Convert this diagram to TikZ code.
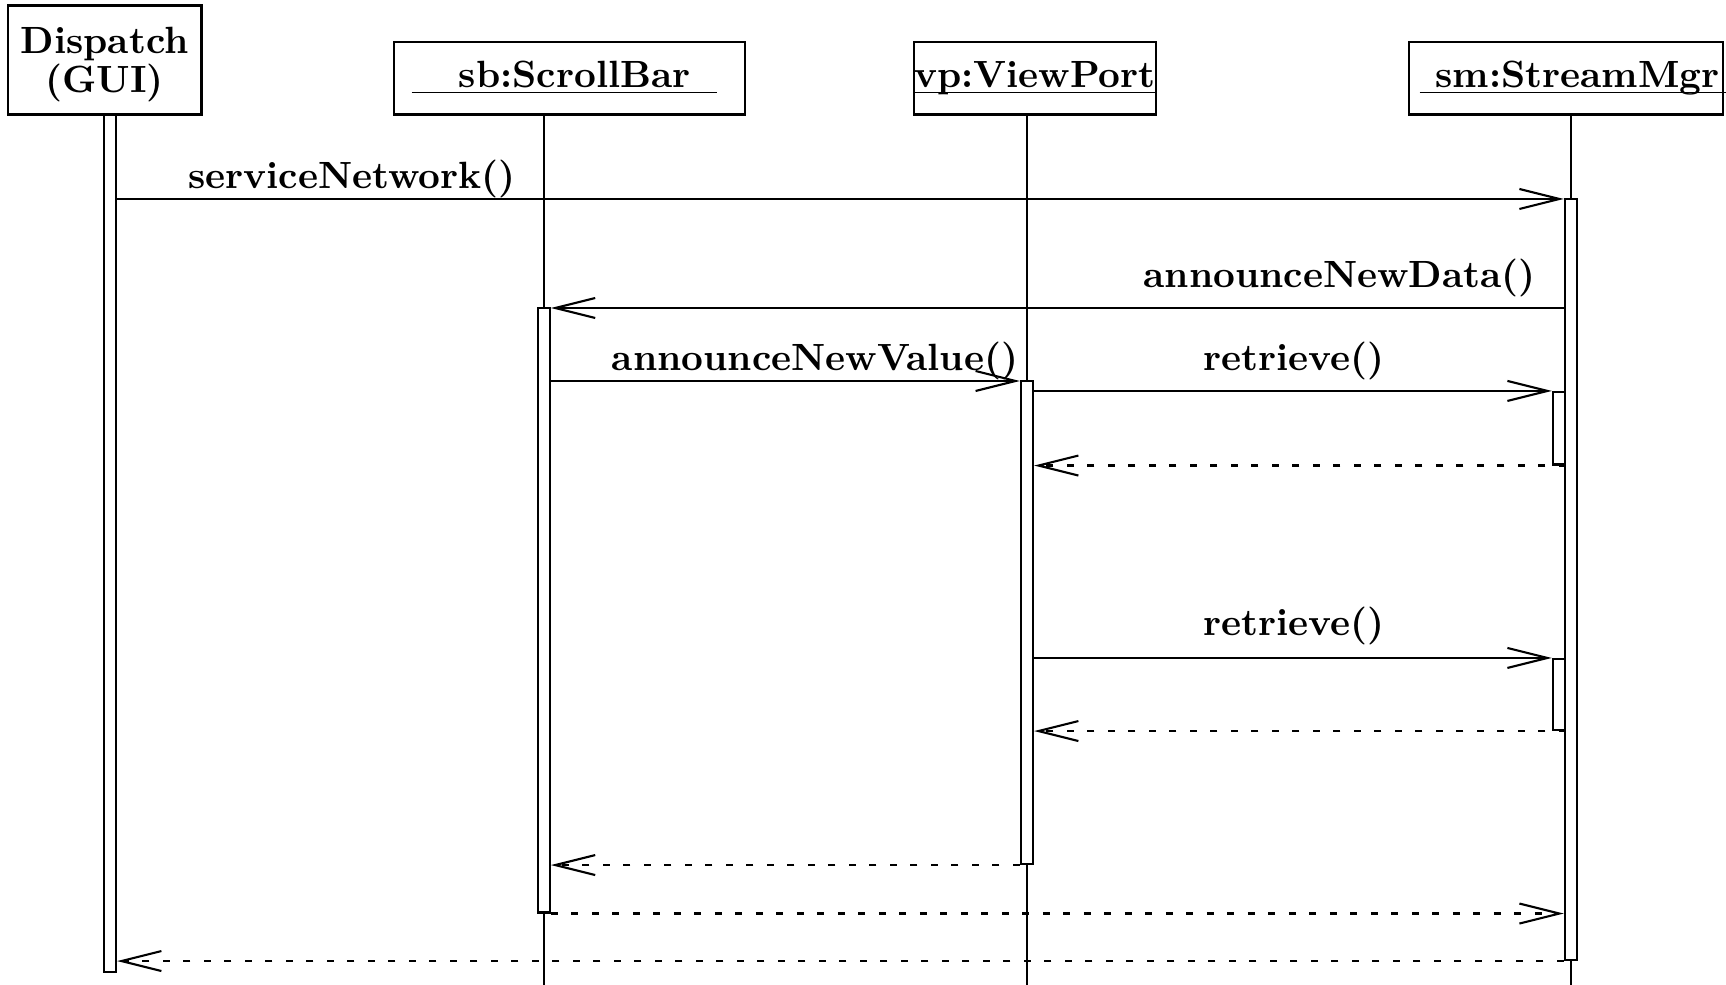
\documentclass[tikz,border=0pt]{standalone}
\usetikzlibrary{arrows.meta}
\begin{document}
\begin{tikzpicture}
		\tikzset{objbox/.style={rectangle, draw, line width=0.6pt, inner sep=0pt},
			objname/.style={inner sep=0pt, font=\fontsize{10.8}{9.3}\selectfont\bfseries},
			actbar/.style={rectangle, draw, fill=white, line width=0.6pt, inner sep=0pt, minimum width=1.2mm},
			lifeline/.style={line width=0.5pt},
			msg/.style={line width=0.6pt, -{Straight Barb[length=4mm,width=2mm]}},
			reply/.style={msg, dash pattern=on 0.7mm off 1.35mm},
			msglabel/.style={anchor=base, inner sep=0pt, font=\fontsize{10.8}{12}\selectfont\bfseries}}
		
		\useasboundingbox (0,0) rectangle (17.26,-9.85);
		
		% objects
		\node[objbox, minimum width=1.937cm, minimum height=1.09cm] (disp) at (1.046,-0.6) {};
		\node[objname, align=center] (dispname) at (1.046,-0.644) {Dispatch\\(GUI)};
		\node[objbox, minimum width=3.511cm, minimum height=0.727cm] (sb) at (5.697,-0.782) {};
		\node[objname, anchor=base] (sbname) at (5.642,-0.875) {\underline{\smash{\hspace{13.5pt}sb:ScrollBar\hspace{7.5pt}}}};
		\node[objbox, minimum width=2.421cm, minimum height=0.727cm] (vp) at (10.348,-0.782) {};
		\node[objname, anchor=base] (vpname) at (10.348,-0.875) {\underline{\smash{vp:ViewPort}}};
		\node[objbox, minimum width=3.138cm, minimum height=0.727cm] (sm) at (15.659,-0.782) {};
		\node[objname, anchor=base] (smname) at (15.73,-0.875) {\underline{\smash{\hspace{4.5pt}sm:StreamMgr\hspace{2pt}}}};
		
		\coordinate (lsb) at (5.438,0);
		\coordinate (lvp) at (10.27,0);
		\coordinate (lsm) at (15.708,0);
		\coordinate (bot) at (0,-9.85);
		
		% lifelines
		\draw[lifeline] (sb.south -| lsb) -- (lsb |- bot);
		\draw[lifeline] (vp.south -| lvp) -- (lvp |- bot);
		\draw[lifeline] (sm.south -| lsm) -- (lsm |- bot);
		
		% activations
		\node[actbar, minimum height=8.575cm] (bardisp) at (1.10,-5.4325) {};
		\node[actbar, minimum height=6.045cm] (barsb) at (5.438,-6.1025) {};
		\node[actbar, minimum height=4.83cm] (barvp) at (10.27,-6.225) {};
		\node[actbar, minimum height=7.61cm] (barsm) at (15.708,-5.795) {};
		\node[actbar, minimum height=0.725cm] (nestone) at (15.588,-4.2825) {};
		\node[actbar, minimum height=0.71cm] (nesttwo) at (15.588,-6.945) {};
		
		\coordinate (rowsn) at (0,-1.99);
		\coordinate (rownd) at (0,-3.08);
		\coordinate (rownv) at (0,-3.81);
		
		% calls
		\draw[msg] (bardisp.east |- rowsn) -- (barsm.west |- rowsn);
		\node[msglabel] (lblsn) at (3.517,-1.888) {serviceNetwork()};
		\draw[msg] (barsm.west |- rownd) -- (barsb.east |- rownd);
		\node[msglabel] (lblnd) at (13.397,-2.873) {announceNewData()};
		\draw[msg] (barsb.east |- rownv) -- (barvp.west |- rownv);
		\node[msglabel] (lblnv) at (8.15,-3.703) {announceNewValue()};
		\draw[msg] (barvp.east |- nestone.north) -- (nestone.north west);
		\node[msglabel] (lblrone) at (12.94,-3.703) {retrieve()};
		\draw[msg] (barvp.east |- nesttwo.north) -- (nesttwo.north west);
		\node[msglabel] (lblrtwo) at (12.94,-6.353) {retrieve()};
		
		% returns
		\draw[reply] (nestone.south east) -- (barvp.east |- nestone.south);
		\draw[reply] (nesttwo.south east) -- (barvp.east |- nesttwo.south);
		\draw[reply] (barvp.south west) -- (barsb.east |- barvp.south);
		\draw[reply] (barsb.south east) -- (barsm.west |- barsb.south);
		\draw[reply] (barsm.south west) -- (bardisp.east |- barsm.south);
		
\end{tikzpicture}
\end{document}
